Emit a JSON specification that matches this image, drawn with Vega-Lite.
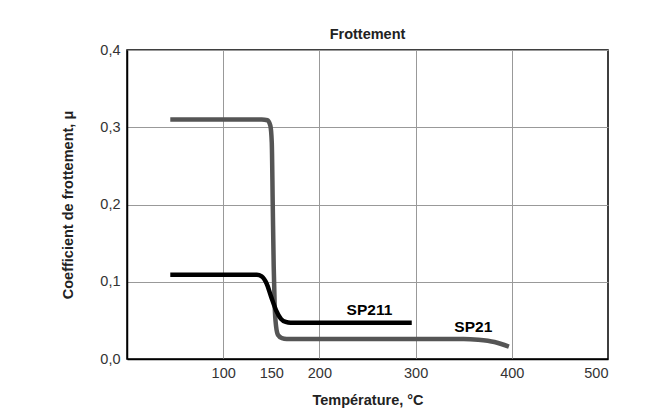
{
  "$schema": "https://vega.github.io/schema/vega-lite/v6.json",
  "width": 481,
  "height": 309,
  "autosize": "none",
  "padding": {"left": 127, "top": 50, "right": 53, "bottom": 59},
  "background": "white",
  "config": {
    "font": "Liberation Sans",
    "view": {"stroke": "black", "strokeWidth": 1.5},
    "axis": {"ticks": false, "domainColor": "black", "domainWidth": 1.5, "gridColor": "#999999", "gridWidth": 1, "labelFont": "Liberation Sans", "labelFontSize": 14.5, "labelColor": "#333333", "titleFont": "Liberation Sans", "titleFontSize": 14.5, "titleFontWeight": "bold", "titleColor": "#222222"}
  },
  "title": {"text": "Frottement", "font": "Liberation Sans", "fontSize": 14.5, "fontWeight": "bold", "color": "#222222", "offset": 0},
  "datasets": {
    "curves": [
      {"serie": "SP21", "t": 45, "mu": 0.31},
      {"serie": "SP21", "t": 140, "mu": 0.31},
      {"serie": "SP21", "t": 146, "mu": 0.309},
      {"serie": "SP21", "t": 149, "mu": 0.302},
      {"serie": "SP21", "t": 150.5, "mu": 0.28},
      {"serie": "SP21", "t": 151.5, "mu": 0.2},
      {"serie": "SP21", "t": 152.5, "mu": 0.12},
      {"serie": "SP21", "t": 153.5, "mu": 0.07},
      {"serie": "SP21", "t": 155, "mu": 0.042},
      {"serie": "SP21", "t": 157, "mu": 0.031},
      {"serie": "SP21", "t": 161, "mu": 0.027},
      {"serie": "SP21", "t": 166, "mu": 0.026},
      {"serie": "SP21", "t": 350, "mu": 0.026},
      {"serie": "SP21", "t": 365, "mu": 0.025},
      {"serie": "SP21", "t": 382, "mu": 0.022},
      {"serie": "SP21", "t": 397, "mu": 0.016},
      {"serie": "SP211", "t": 45, "mu": 0.109},
      {"serie": "SP211", "t": 135, "mu": 0.109},
      {"serie": "SP211", "t": 140, "mu": 0.107},
      {"serie": "SP211", "t": 145, "mu": 0.098},
      {"serie": "SP211", "t": 150, "mu": 0.08},
      {"serie": "SP211", "t": 155, "mu": 0.063},
      {"serie": "SP211", "t": 160, "mu": 0.052},
      {"serie": "SP211", "t": 165, "mu": 0.048},
      {"serie": "SP211", "t": 170, "mu": 0.047},
      {"serie": "SP211", "t": 296, "mu": 0.047}
    ],
    "labels": [
      {"label": "SP211", "t": 252, "mu": 0.064},
      {"label": "SP21", "t": 360, "mu": 0.042}
    ]
  },
  "layer": [
    {
      "data": {"name": "curves"},
      "mark": {"type": "line", "interpolate": "monotone", "strokeWidth": 4.5, "strokeCap": "butt"},
      "encoding": {
        "x": {"field": "t", "type": "quantitative", "scale": {"domain": [0, 500], "nice": false},
          "axis": {"title": "Température, °C", "values": [100, 150, 200, 300, 400, 500], "labelPadding": 7, "titlePadding": 14,
            "gridOpacity": {"condition": {"test": "datum.value == 150 || datum.value == 500", "value": 0}, "value": 1}}},
        "y": {"field": "mu", "type": "quantitative", "scale": {"domain": [0, 0.4], "nice": false},
          "axis": {"title": "Coefficient de frottement, μ", "values": [0, 0.1, 0.2, 0.3, 0.4], "labelExpr": "replace(format(datum.value, '.1f'), '.', ',')", "labelPadding": 7, "titlePadding": 24}},
        "color": {"field": "serie", "type": "nominal", "scale": {"domain": ["SP21", "SP211"], "range": ["#555555", "#000000"]}, "legend": null},
        "detail": {"field": "serie"}
      }
    },
    {
      "data": {"name": "labels"},
      "mark": {"type": "text", "font": "Liberation Sans", "fontSize": 15.5, "fontWeight": "bold", "color": "black"},
      "encoding": {
        "x": {"field": "t", "type": "quantitative"},
        "y": {"field": "mu", "type": "quantitative"},
        "text": {"field": "label"}
      }
    }
  ]
}
